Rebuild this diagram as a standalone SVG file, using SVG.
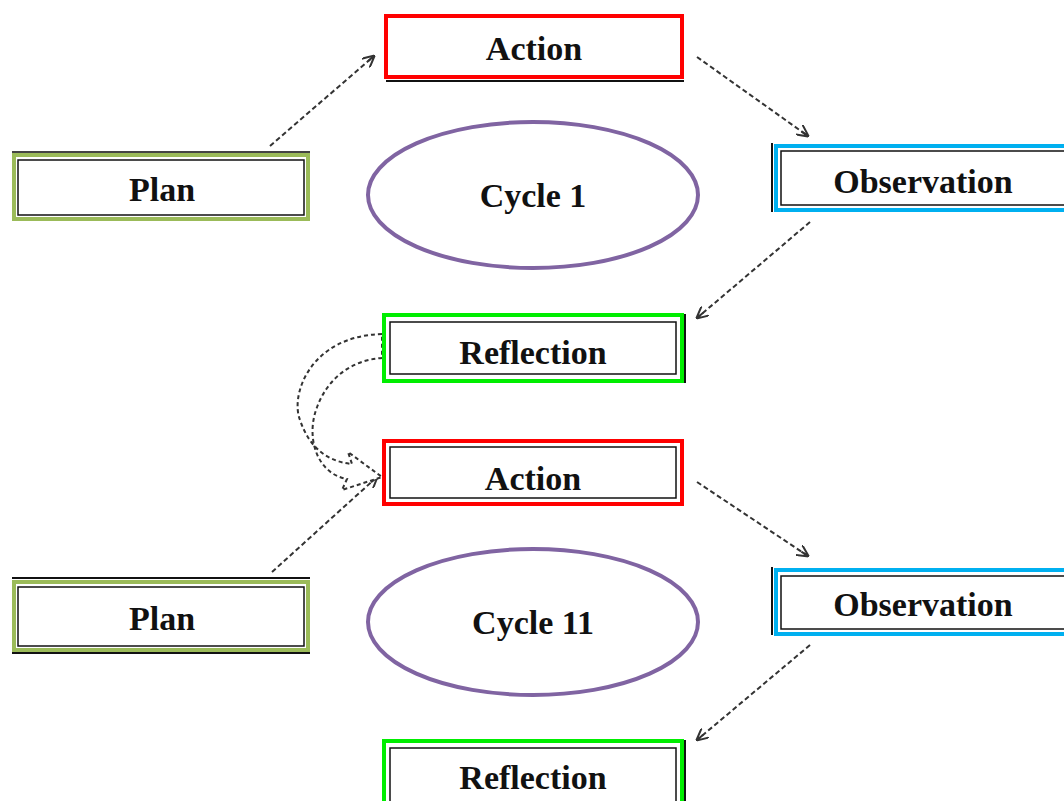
<svg xmlns="http://www.w3.org/2000/svg" width="1064" height="801" viewBox="0 0 1064 801">
<defs>
<style>
.box{fill:#fff;stroke-width:4}
.inner{fill:none;stroke:#111;stroke-width:1.5}
.lbl{font-family:"Liberation Serif","Times New Roman",serif;font-size:34px;font-weight:bold;fill:#111;text-anchor:middle;dominant-baseline:central}
.cyc{fill:#fff;stroke:#8064a2;stroke-width:4}
.con{fill:none;stroke:#333;stroke-width:2;stroke-dasharray:5 3}
</style>
<marker id="ah" viewBox="0 0 12 12" refX="11" refY="6" markerWidth="12" markerHeight="12" markerUnits="userSpaceOnUse" orient="auto">
<path d="M0,0 L12,6 L0,12 M3,6 L12,6" fill="none" stroke="#333" stroke-width="2"/>
</marker>
</defs>
<rect width="1064" height="801" fill="#fff"/>
<g id="connectors">
<line class="con" x1="270" y1="146" x2="374" y2="56" marker-end="url(#ah)"/>
<line class="con" x1="697" y1="57" x2="808" y2="136" marker-end="url(#ah)"/>
<line class="con" x1="810" y1="222" x2="697" y2="318" marker-end="url(#ah)"/>
<line class="con" x1="272" y1="572" x2="377" y2="477" marker-end="url(#ah)"/>
<line class="con" x1="697" y1="482" x2="808" y2="556" marker-end="url(#ah)"/>
<line class="con" x1="810" y1="645" x2="697" y2="740" marker-end="url(#ah)"/>
<path id="curved" d="M382,334 C310,336 290,395 300,420 C310,450 330,462 352,464 L348,452 L382,477 L342,490 L347,479 C318,474 306,440 316,410 C326,380 350,360 382,358 Z" fill="#fff" stroke="#333" stroke-width="2" stroke-dasharray="4 3"/>
</g>
<g id="action1">
<rect class="box" x="386" y="16" width="296" height="61" stroke="#ff0000"/>
<line x1="386" y1="81" x2="684" y2="81" stroke="#111" stroke-width="2"/>
<text class="lbl" x="534" y="48">Action</text>
</g>
<g id="plan1">
<rect class="box" x="14" y="155" width="294" height="64" stroke="#9bbb59"/>
<rect class="inner" x="18" y="160" width="286" height="55"/>
<line x1="12" y1="152" x2="310" y2="152" stroke="#444" stroke-width="2"/>
<text class="lbl" x="162" y="189">Plan</text>
</g>
<g id="cycle1">
<ellipse class="cyc" cx="533" cy="195" rx="165" ry="73"/>
<text class="lbl" x="533" y="195">Cycle 1</text>
</g>
<g id="observation1">
<rect class="box" x="776" y="146" width="300" height="64" stroke="#00b0f0"/>
<rect class="inner" x="781" y="151" width="300" height="54"/>
<line x1="772" y1="143" x2="772" y2="212" stroke="#111" stroke-width="2"/>
<text class="lbl" x="923" y="181">Observation</text>
</g>
<g id="reflection1">
<rect class="box" x="384" y="315" width="298" height="66" stroke="#00ee00"/>
<rect class="inner" x="390" y="322" width="286" height="52"/>
<line x1="685" y1="314" x2="685" y2="383" stroke="#111" stroke-width="2"/>
<text class="lbl" x="533" y="352">Reflection</text>
</g>
<g id="action2">
<rect class="box" x="384" y="441" width="298" height="63" stroke="#ff0000"/>
<rect class="inner" x="390" y="447" width="286" height="51"/>
<text class="lbl" x="533" y="478">Action</text>
</g>
<g id="plan2">
<rect class="box" x="14" y="582" width="294" height="68" stroke="#9bbb59"/>
<rect class="inner" x="18" y="587" width="286" height="59"/>
<line x1="12" y1="578" x2="310" y2="578" stroke="#111" stroke-width="2"/>
<line x1="12" y1="653" x2="310" y2="653" stroke="#111" stroke-width="2"/>
<text class="lbl" x="162" y="618">Plan</text>
</g>
<g id="cycle2">
<ellipse class="cyc" cx="533" cy="622" rx="165" ry="73"/>
<text class="lbl" x="533" y="622">Cycle 11</text>
</g>
<g id="observation2">
<rect class="box" x="776" y="570" width="300" height="64" stroke="#00b0f0"/>
<rect class="inner" x="781" y="576" width="300" height="53"/>
<line x1="772" y1="567" x2="772" y2="635" stroke="#111" stroke-width="2"/>
<text class="lbl" x="923" y="604">Observation</text>
</g>
<g id="reflection2">
<rect class="box" x="384" y="741" width="298" height="70" stroke="#00ee00"/>
<rect class="inner" x="390" y="748" width="286" height="60"/>
<line x1="685" y1="740" x2="685" y2="801" stroke="#111" stroke-width="2"/>
<text class="lbl" x="533" y="777">Reflection</text>
</g>
</svg>
